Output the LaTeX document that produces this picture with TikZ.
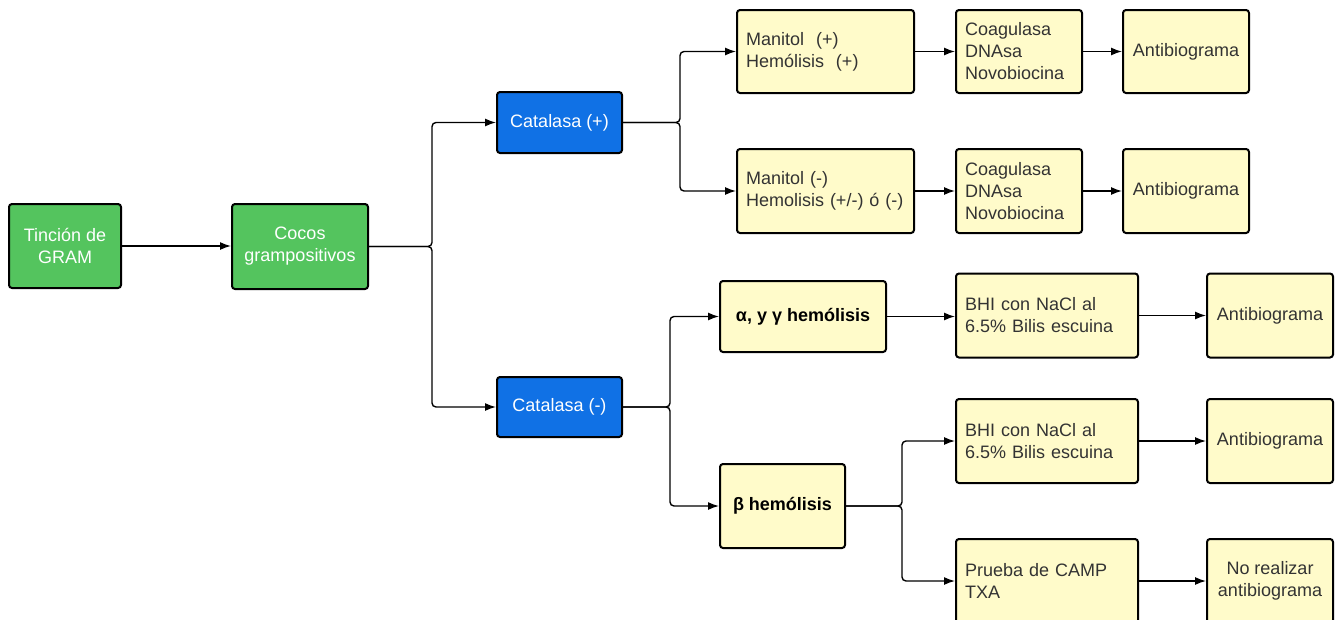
\documentclass[tikz,border=0pt]{standalone}
\usepackage{fontspec}
\setmainfont{Liberation Sans}
\usetikzlibrary{arrows.meta}

\definecolor{boxgreen}{RGB}{84,196,94}
\definecolor{boxblue}{RGB}{16,113,229}
\definecolor{boxyellow}{RGB}{255,251,202}
\definecolor{txtgray}{RGB}{51,51,51}

\tikzset{
    box/.style = {draw = black, line width = 2pt, rounded corners = 3pt, inner sep = 0pt,
                  font = \fontsize{18}{22}\selectfont},
    greenbox/.style = {box, fill = boxgreen, text = white, align = center},
    bluebox/.style = {box, fill = boxblue, text = white, align = center},
    notebox/.style = {box, fill = boxyellow, text = txtgray, align = left, inner xsep = 9pt},
    midbox/.style = {box, fill = boxyellow, text = txtgray, align = center},
    keybox/.style = {box, fill = boxyellow, text = black, align = center, font = \fontsize{18}{22}\selectfont\bfseries},
    conn/.style = {line width = 1.4pt, rounded corners = 4pt, -{Latex[length = 11pt, width = 8pt]}}
}

\begin{document}
\begin{tikzpicture}[x = 1pt, y = -1pt]
        \useasboundingbox (0,0) rectangle (1340,619);
        \clip (0,0) rectangle (1340,619);

        % first column
        \node[greenbox, minimum width = 112pt, minimum height = 84pt] (gram) at (65,246) {Tinción de\\GRAM};
        \node[greenbox, minimum width = 136pt, minimum height = 85pt] (cocos) at (300,246.5) {Cocos\\grampositivos};

        % catalasa
        \node[bluebox, minimum width = 125pt, minimum height = 61pt] (catp) at (559.5,122.5) {Catalasa (+)};
        \node[bluebox, minimum width = 125pt, minimum height = 60pt] (catn) at (559.5,407) {Catalasa (-)};

        % catalasa (+) branch
        \node[notebox, text width = 159pt, minimum height = 83pt] (manp) at (825.5,51.5) {Manitol\ \ (+)\\Hemólisis\ \ (+)};
        \node[notebox, text width = 159pt, minimum height = 84pt] (mann) at (825.5,191) {Manitol (-)\\Hemolisis (+/-) ó (-)};
        \node[notebox, text width = 108pt, minimum height = 83pt] (coap) at (1019,51.5) {Coagulasa\\DNAsa\\Novobiocina};
        \node[notebox, text width = 108pt, minimum height = 84pt] (coan) at (1019,191) {Coagulasa\\DNAsa\\Novobiocina};
        \node[midbox, minimum width = 126pt, minimum height = 83pt] (abp) at (1186,51.5) {Antibiograma};
        \node[midbox, minimum width = 126pt, minimum height = 84pt] (abn) at (1186,191) {Antibiograma};

        % catalasa (-) branch
        \node[keybox, minimum width = 166pt, minimum height = 71pt] (ahem) at (803,316.5) {α, y γ hemólisis};
        \node[keybox, minimum width = 125pt, minimum height = 84pt] (bhem) at (782.5,506) {β hemólisis};
        \node[notebox, text width = 164pt, minimum height = 84pt] (bhia) at (1047,315.5) {BHI con NaCl al\\6.5\% Bilis escuina};
        \node[notebox, text width = 164pt, minimum height = 84pt] (bhib) at (1047,441) {BHI con NaCl al\\6.5\% Bilis escuina};
        \node[notebox, text width = 164pt, minimum height = 84pt] (camp) at (1047,581) {Prueba de CAMP\\TXA};
        \node[midbox, minimum width = 126pt, minimum height = 84pt] (aba) at (1270,315.5) {Antibiograma};
        \node[midbox, minimum width = 126pt, minimum height = 84pt] (abb) at (1270,441) {Antibiograma};
        \node[midbox, minimum width = 126pt, minimum height = 84pt] (norea) at (1270,581) {No realizar\\antibiograma};

        % junctions
        \coordinate (jcocos) at (432,246.5);
        \coordinate (jcatp) at (680,122.5);
        \coordinate (jcatn) at (670,407);
        \coordinate (jbhem) at (902,506);

        \draw[conn] (gram) -- (gram -| cocos.west);
        \draw[conn] (cocos.east) -- (jcocos) |- (catp.west);
        \draw[conn] (cocos.east) -- (jcocos) |- (catn.west);

        \draw[conn] (catp.east) -- (jcatp) |- (manp.west);
        \draw[conn] (catp.east) -- (jcatp) |- (mann.west);
        \draw[conn] (manp) -- (coap);
        \draw[conn] (mann) -- (coan);
        \draw[conn] (coap) -- (abp);
        \draw[conn] (coan) -- (abn);

        \draw[conn] (catn.east) -- (jcatn) |- (ahem.west);
        \draw[conn] (catn.east) -- (jcatn) |- (bhem.west);
        \draw[conn] (ahem.east) -- (ahem.east -| bhia.west);
        \draw[conn] (bhia) -- (aba);
        \draw[conn] (bhem.east) -- (jbhem) |- (bhib.west);
        \draw[conn] (bhem.east) -- (jbhem) |- (camp.west);
        \draw[conn] (bhib) -- (abb);
        \draw[conn] (camp) -- (norea);
    \end{tikzpicture}
\end{document}
